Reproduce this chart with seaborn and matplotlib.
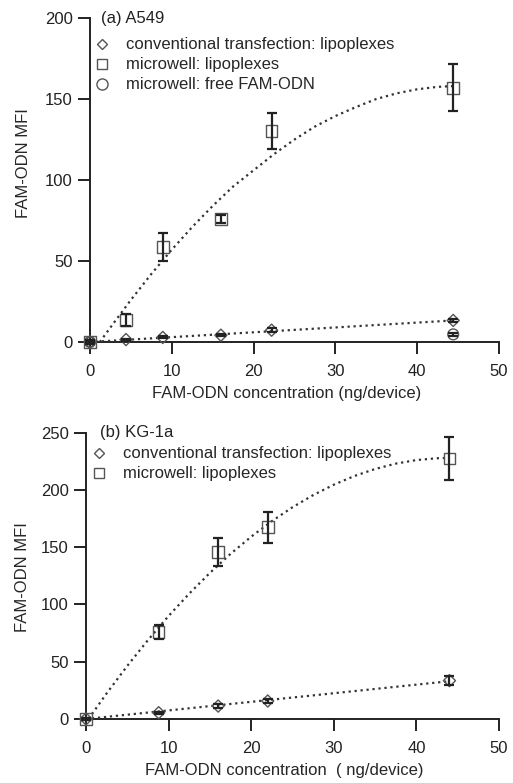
import matplotlib
matplotlib.use("Agg")
import matplotlib.pyplot as plt
import seaborn as sns
from matplotlib.lines import Line2D

# ---------------- Panel (a) A549 ----------------
a_conc = [0, 4.4, 8.9, 16.0, 22.2, 44.4]
a_conv = [0, 1.5, 2.8, 4.2, 7.3, 13.3]
a_conv_err = [0.5, 0.6, 0.6, 0.8, 1.2, 1.0]
a_micro = [0, 13.5, 58.8, 76.0, 130.4, 156.8]
a_micro_err = [1.0, 3.5, 8.5, 2.5, 11.0, 14.5]
a_free_conc = [0, 44.4]
a_free = [0, 4.7]
a_free_err = [0.5, 0.8]
# dotted fit curves
a_fit_micro_x = [1.2, 2.5, 5, 7.5, 10, 12.5, 15, 17.5, 20, 22.5, 25, 27.5, 30,
                 32.5, 35, 37.5, 40, 42.5, 44.5]
a_fit_micro_y = [0, 9, 26, 42, 57, 71, 84, 96, 106, 116, 125, 133, 139.5,
                 145, 150, 153.5, 156, 157.5, 158]
a_fit_conv_x = [0, 44.4]
a_fit_conv_y = [0, 13.3]

# ---------------- Panel (b) KG-1a ----------------
b_conc = [0, 8.8, 16.0, 22.0, 44.0]
b_conv = [0, 5.5, 11.3, 15.7, 33.5]
b_conv_err = [0.5, 1.0, 1.5, 1.5, 4.0]
b_micro = [0, 75.7, 146.0, 167.4, 227.6]
b_micro_err = [1.0, 6.0, 12.0, 13.5, 18.5]
b_fit_micro_x = [0.3, 2.5, 5, 7.5, 10, 12.5, 15, 17.5, 20, 22.5, 25, 27.5, 30,
                 32.5, 35, 37.5, 40, 42.5, 44]
b_fit_micro_y = [0, 22.4, 46.4, 68.9, 90, 109.5, 127.6, 144.2, 159.2, 172.8,
                 184.9, 195.5, 204.6, 212.2, 218.3, 223, 226.1, 227.7, 228]
b_fit_conv_x = [0, 44.0]
b_fit_conv_y = [0, 33.0]

x_ticks = [0, 10, 20, 30, 40, 50]
a_y_ticks = [0, 50, 100, 150, 200]
b_y_ticks = [0, 50, 100, 150, 200, 250]

lab_conv = "conventional transfection: lipoplexes"
lab_micro = "microwell: lipoplexes"
lab_free = "microwell: free FAM-ODN"

sns.set_theme(style="ticks")
plt.rcParams["font.family"] = ["Liberation Sans", "DejaVu Sans"]
FS = 12
AXC = "#222222"
MEC = "#555555"
LINEC = "#333333"
DOT = (0, (1, 1.7))

fig = plt.figure(figsize=(5.13, 7.83), dpi=100)
ax_a = fig.add_axes([90 / 513, 1 - 342 / 783, 409 / 513, 324 / 783])
ax_b = fig.add_axes([86 / 513, 1 - 719 / 783, 413 / 513, 286.3 / 783])


def style_axes(ax, yticks, ymax):
    ax.set_xlim(0, 50)
    ax.set_ylim(0, ymax)
    ax.set_xticks(x_ticks)
    ax.set_yticks(yticks)
    for s in ["top", "right"]:
        ax.spines[s].set_visible(False)
    for s in ["left", "bottom"]:
        ax.spines[s].set_color(AXC)
        ax.spines[s].set_linewidth(1.4)
    ax.tick_params(axis="both", direction="out", length=8.5, width=1.4,
                   color=AXC, labelsize=FS, labelcolor="#222222")
    ax.tick_params(axis="y", pad=4)
    ax.tick_params(axis="x", pad=7)
    ax.grid(False)


def draw_series(ax, x, y, err, marker, size):
    sns.scatterplot(x=x, y=y, ax=ax, marker=marker, s=size, facecolor="none",
                    edgecolor=MEC, linewidth=1.0, clip_on=False, zorder=4)
    ax.errorbar(x, y, yerr=err, fmt="none", ecolor=AXC, elinewidth=1.6,
                capsize=3.8, capthick=1.6, clip_on=False, zorder=5)


def draw_fit(ax, x, y):
    sns.lineplot(x=x, y=y, ax=ax, color=LINEC, linewidth=1.6, linestyle=DOT,
                 sort=False, estimator=None, zorder=3)
    ax.lines[-1].set_dashes((1, 1.7))


# ---- panel a ----
style_axes(ax_a, a_y_ticks, 200)
draw_fit(ax_a, a_fit_micro_x, a_fit_micro_y)
draw_fit(ax_a, a_fit_conv_x, a_fit_conv_y)
draw_series(ax_a, a_conc, a_conv, a_conv_err, "D", 38)
draw_series(ax_a, a_conc, a_micro, a_micro_err, "s", 70)
draw_series(ax_a, a_free_conc, a_free, a_free_err, "o", 60)

ax_a.set_xlabel("FAM-ODN concentration (ng/device)", fontsize=FS)
ax_a.set_ylabel("FAM-ODN MFI", fontsize=FS)
ax_a.xaxis.set_label_coords(0.48, -0.136)
ax_a.yaxis.set_label_coords(-0.145, 0.552)
ax_a.text(0.027, 1.0, "(a) A549", transform=ax_a.transAxes, fontsize=FS,
          va="center", ha="left", color="#222222")

h_conv = Line2D([], [], ls="none", marker="D", ms=5.5, mfc="none", mec=MEC, mew=1.0)
h_micro = Line2D([], [], ls="none", marker="s", ms=7.5, mfc="none", mec=MEC, mew=1.0)
h_free = Line2D([], [], ls="none", marker="o", ms=8, mfc="none", mec=MEC, mew=1.0)

ax_a.legend([h_conv, h_micro, h_free], [lab_conv, lab_micro, lab_free],
            loc="upper left", bbox_to_anchor=(0.01, 0.94), frameon=False,
            fontsize=FS, handlelength=1.0, handletextpad=0.9,
            labelspacing=0.3, borderpad=0, borderaxespad=0)

# ---- panel b ----
style_axes(ax_b, b_y_ticks, 250)
draw_fit(ax_b, b_fit_micro_x, b_fit_micro_y)
draw_fit(ax_b, b_fit_conv_x, b_fit_conv_y)
draw_series(ax_b, b_conc, b_conv, b_conv_err, "D", 38)
draw_series(ax_b, b_conc, b_micro, b_micro_err, "s", 70)

ax_b.set_xlabel("FAM-ODN concentration  ( ng/device)", fontsize=FS)
ax_b.set_ylabel("FAM-ODN MFI", fontsize=FS)
ax_b.xaxis.set_label_coords(0.481, -0.152)
ax_b.yaxis.set_label_coords(-0.135, 0.496)
ax_b.text(0.034, 1.0, "(b) KG-1a", transform=ax_b.transAxes, fontsize=FS,
          va="center", ha="left", color="#222222")

ax_b.legend([h_conv, h_micro], [lab_conv, lab_micro],
            loc="upper left", bbox_to_anchor=(0.012, 0.952), frameon=False,
            fontsize=FS, handlelength=1.0, handletextpad=0.9,
            labelspacing=0.3, borderpad=0, borderaxespad=0)

fig.savefig("out.png", dpi=100)
